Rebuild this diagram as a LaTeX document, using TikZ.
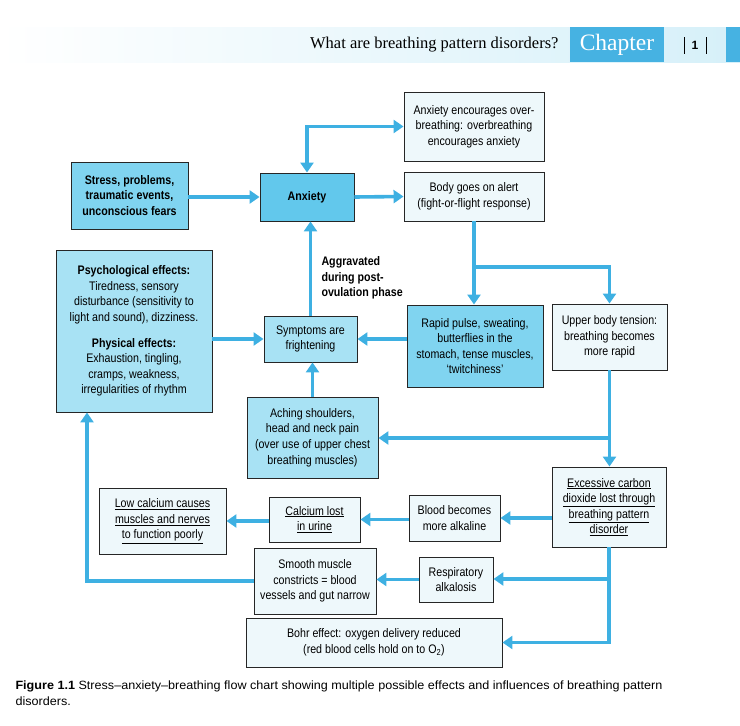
\documentclass[tikz,border=0pt]{standalone}
\usepackage{fontspec}
\usepackage{tikz}
\setmainfont{Liberation Sans}
\newfontfamily\boxfont[FakeStretch=0.86]{Liberation Sans}
\newfontfamily\headfont{Liberation Serif}
\newfontfamily\capfont[FakeStretch=1.05]{Liberation Sans}
\usetikzlibrary{arrows.meta}
\usetikzlibrary{positioning}
\definecolor{flowblue}{RGB}{62,176,226}
\definecolor{chapblue}{RGB}{70,178,226}
\definecolor{bandblue}{RGB}{214,240,249}
\definecolor{deepcyan}{RGB}{98,200,236}
\definecolor{midcyan}{RGB}{128,212,240}
\definecolor{softcyan}{RGB}{168,226,244}
\definecolor{pale}{RGB}{238,248,251}
\newcommand{\boxtxt}{\boxfont\fontsize{12.4}{15.6}\selectfont}
\tikzset{box/.style = {draw=black!85, line width=0.9pt, align=center,
                       inner sep=2pt, font=\boxtxt}}
\tikzset{flow/.style = {draw=flowblue, line width=3.6pt,
                        >={Triangle[width=13pt,length=10pt]}}}

\begin{document}
\begin{tikzpicture}[x=1pt, y=-1pt]
    \useasboundingbox (0, 0) rectangle (740, 726);

    % running head
    \shade [left color=white, right color=bandblue] (0, 27) rectangle (740, 62);
    \fill [chapblue] (570, 27) rectangle (664, 62);
    \fill [chapblue] (726, 27) rectangle (740, 62);
    \node [anchor=east, font=\headfont\fontsize{16.5}{16.5}\selectfont] (title) at (562, 45)
      {What are breathing pattern disorders?};
    \node [white, font=\headfont\fontsize{23.5}{23.5}\selectfont] (chapter) at (617, 45) {Chapter};
    \node [font=\bfseries\fontsize{12}{12}\selectfont] (page) at (695, 45) {1};
    \draw [line width=0.5pt] (684, 37) -- (684, 54);
    \draw [line width=0.5pt] (706, 37) -- (706, 54);

    % boxes
    \node [box, fill=midcyan, minimum width=117pt, minimum height=67pt] (stress) at (129.5, 195.5)
      {\bfseries Stress, problems,\\ \bfseries traumatic events,\\ \bfseries unconscious fears};
    \node [box, fill=deepcyan, minimum width=94pt, minimum height=48pt] (anx) at (307, 197)
      {\bfseries Anxiety};
    \node [box, fill=pale, minimum width=140pt, minimum height=69pt] (over) at (474, 126.5)
      {Anxiety encourages over-\\breathing: overbreathing\\encourages anxiety};
    \node [box, fill=pale, minimum width=140pt, minimum height=49pt] (alert) at (474, 196.5)
      {Body goes on alert\\(fight-or-flight response)};
    \node [box, fill=softcyan, minimum width=156pt, minimum height=162pt] (psych) at (134, 331)
      {\bfseries Psychological effects:\\Tiredness, sensory\\disturbance (sensitivity to\\light and sound), dizziness.\\[10pt]
       \bfseries Physical effects:\\Exhaustion, tingling,\\cramps, weakness,\\irregularities of rhythm};
    \node [box, fill=softcyan, minimum width=93pt, minimum height=46pt] (sympt) at (310.5, 339)
      {Symptoms are\\frightening};
    \node [box, fill=midcyan, minimum width=136pt, minimum height=82pt] (pulse) at (475, 346)
      {Rapid pulse, sweating,\\butterflies in the\\stomach, tense muscles,\\‘twitchiness’};
    \node [box, fill=pale, minimum width=115pt, minimum height=66pt] (tension) at (609.5, 337)
      {Upper body tension:\\breathing becomes\\more rapid};
    \node [box, fill=softcyan, minimum width=131pt, minimum height=81pt] (aching) at (312.5, 437.5)
      {Aching shoulders,\\head and neck pain\\(over use of upper chest\\breathing muscles)};
    \node [box, fill=pale, minimum width=114pt, minimum height=80pt] (co2) at (609, 507)
      {\underline{Excessive carbon}\\\underline{dioxide lost through}\\\underline{breathing pattern}\\\underline{disorder}};
    \node [box, fill=pale, minimum width=91pt, minimum height=46pt] (blood) at (454.5, 518)
      {Blood becomes\\more alkaline};
    \node [box, fill=pale, minimum width=91pt, minimum height=45pt] (calcium) at (314.5, 519.5)
      {\underline{Calcium lost}\\\underline{in urine}};
    \node [box, fill=pale, minimum width=127pt, minimum height=66pt] (lowca) at (162.5, 521)
      {\underline{Low calcium causes}\\\underline{muscles and nerves}\\\underline{to function poorly}};
    \node [box, fill=pale, minimum width=122pt, minimum height=66pt] (smooth) at (315, 581)
      {Smooth muscle\\constricts = blood\\vessels and gut narrow};
    \node [box, fill=pale, minimum width=74pt, minimum height=45pt] (alkal) at (456, 579.5)
      {Respiratory\\alkalosis};
    \node [box, fill=pale, minimum width=256pt, minimum height=49pt] (bohr) at (374, 642.5)
      {Bohr effect: oxygen delivery reduced\\(red blood cells hold on to O\textsubscript{2})};

    \node [anchor=north west, align=left, font=\boxtxt\bfseries] (aggr) at (318, 253)
      {Aggravated\\during post-\\ovulation phase};

    % branch points
    \coordinate (split1) at (474, 267);
    \coordinate (split2) at (609, 438);
    \coordinate (split3) at (609, 579);

    % connectors
    \draw [flow, ->] (stress.east |- anx.west) -- (anx.west);
    \draw [flow, ->] (anx.east) -- (alert.west);
    \draw [flow, <->] (anx.north) |- (over.west);
    \draw [flow, ->] (alert.south) -- (alert.south |- pulse.north);
    \draw [flow, ->] (split1) -| (tension.north);
    \draw [flow, ->] (pulse.west |- sympt.east) -- (sympt.east);
    \draw [flow, ->] (psych.east |- sympt.west) -- (sympt.west);
    \draw [flow, ->] (sympt.north) -- (sympt.north |- anx.south);
    \draw [flow, ->] (aching.north) -- (aching.north |- sympt.south);
    \draw [flow, ->] (tension.south) -- (tension.south |- co2.north);
    \draw [flow, ->] (split2) -- (aching.east |- split2);
    \draw [flow, ->] (co2.west |- blood.east) -- (blood.east);
    \draw [flow, ->] (blood.west |- calcium.east) -- (calcium.east);
    \draw [flow, ->] (calcium.west |- lowca.east) -- (lowca.east);
    \draw [flow, ->] (co2.south) |- (bohr.east);
    \draw [flow, ->] (split3) -- (alkal.east |- split3);
    \draw [flow, ->] (alkal.west) -- (alkal.west -| smooth.east);
    \draw [flow, ->] (smooth.west) -| ([xshift=-47pt]psych.south);

    % caption
    \node [anchor=north west, align=left, font=\capfont\fontsize{12}{16}\selectfont] (caption) at (12, 677)
      {\textbf{Figure 1.1} Stress–anxiety–breathing flow chart showing multiple possible effects and influences of breathing pattern\\disorders.};
\end{tikzpicture}
\end{document}
